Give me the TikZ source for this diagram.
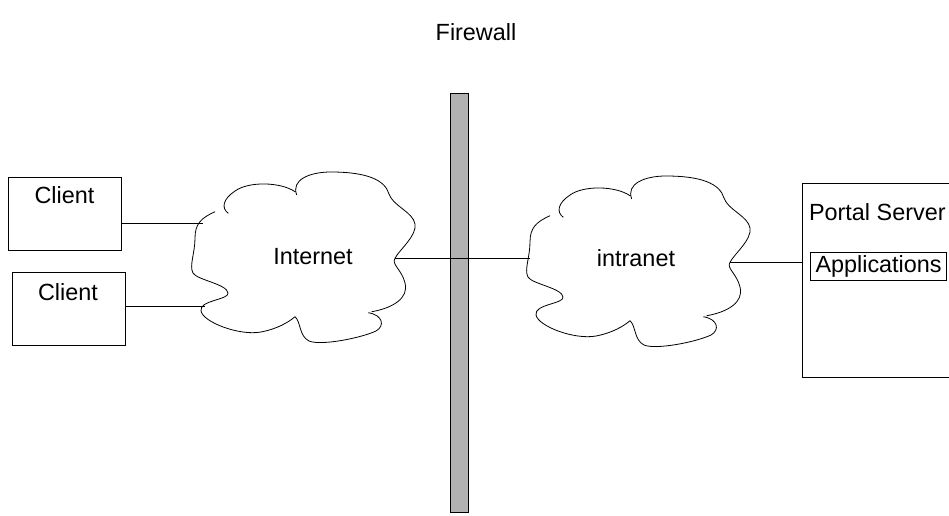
\documentclass[tikz,border=0pt]{standalone}
\usepackage{fontspec}
\setmainfont{Liberation Sans}
\tikzset{box/.style = {draw, line width=1pt, rectangle, inner sep=0pt},
         clientbox/.style = {box, minimum width=113pt, minimum height=73pt},
         srvbox/.style = {box, minimum width=150pt, minimum height=194pt},
         wall/.style = {draw, line width=1pt, fill=black!30, rectangle, inner sep=0pt, minimum width=18pt, minimum height=419pt},
         link/.style = {line width=1pt},
         netcloud/.pic = {\draw[line width=0.8pt]
                            (-86,-46.3) .. controls (-100,-40) and (-106,-34) .. (-106,-20)
                              .. controls (-106,-5) and (-112,8) .. (-108,15)
                              .. controls (-104,22) and (-74,26) .. (-73,35)
                              .. controls (-72,42) and (-102,42) .. (-100,53)
                              .. controls (-98,64) and (-62,78) .. (-40,74)
                              .. controls (-24,71) and (-12,64) .. (-6,58.7)
                            (-6,58.7) .. controls (0,64) and (-2,78) .. (8,83)
                              .. controls (20,88) and (60,80) .. (75,73)
                              .. controls (84,68) and (82,57) .. (67.3,54.7)
                            (70.7,53.7) .. controls (92,50) and (108,40) .. (104,25)
                              .. controls (101,12) and (90,6) .. (94,0.3)
                              .. controls (98,-8) and (116,-22) .. (114,-34)
                              .. controls (112,-46) and (92,-52) .. (88,-64)
                              .. controls (84,-78) and (66,-86) .. (30,-86)
                              .. controls (8,-86) and (-10,-78) .. (-4.3,-63)
                            (-6,-66.3) .. controls (-20,-76) and (-52,-77) .. (-66,-67)
                              .. controls (-78,-59) and (-80,-50) .. (-72.7,-44.7);
                          \coordinate (-w) at (-106,-4);
                          \coordinate (-e) at (94,0);
                          \coordinate (-nw) at (-98,-35);
                          \coordinate (-sw) at (-96,48);}}

\begin{document}
\begin{tikzpicture}[x=1pt, y=-1pt, every node/.style={font=\fontsize{23.4}{28}\selectfont}]
        \useasboundingbox (0,0) rectangle (949,515);
        \node (fwl) at (476,32) {Firewall};
        \node[wall] (fw) at (459,302.5) {};
        \pic (inet) at (301,258) {netcloud};
        \pic (intra) at (636,262) {netcloud};
        \node (inetl) at (313,257) {Internet};
        \node (intral) at (636,258) {intranet};
        \node[clientbox] (c1) at (64.5,213.5) {};
        \node[clientbox] (c2) at (69,309) {};
        \node (c1l) at (64.5,195) {Client};
        \node (c2l) at (68,292) {Client};
        \node[srvbox] (srv) at (877,280) {};
        \node[anchor=west] (srvl) at (805.5,212) {Portal Server};
        \node[box, inner xsep=5pt, inner ysep=3.5pt, anchor=west] (apps) at (810,266.5) {Applications};
        \draw[link] (inet-nw -| c1.east) -- (inet-nw);
        \draw[link] (inet-sw -| c2.east) -- (inet-sw);
        \draw[link] (inet-e) -- (intra-w);
        \draw[link] (intra-e) -- (intra-e -| srv.west);
    \end{tikzpicture}
\end{document}
